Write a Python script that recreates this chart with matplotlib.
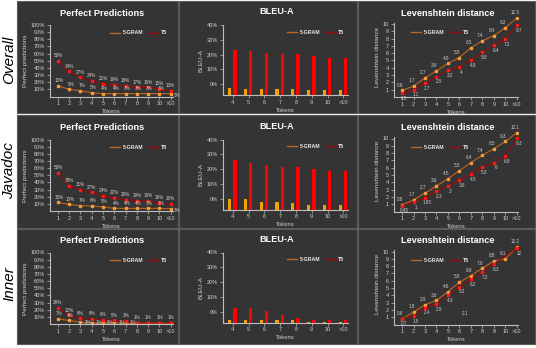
import numpy as np
import matplotlib
matplotlib.use('Agg')
import matplotlib.pyplot as plt
from matplotlib.lines import Line2D
from matplotlib.patches import Rectangle

plt.rcParams['font.family'] = ['Liberation Sans', 'DejaVu Sans']

# ---------------- data ----------------
row_names = ['Overall', 'Javadoc', 'Inner']
series_names = ['5-GRAM', 'T5']

pp_tokens = ['1', '2', '3', '4', '5', '6', '7', '8', '9', '10', '>10']
bleu_tokens = ['4', '5', '6', '7', '8', '9', '10', '>10']
lev_tokens = ['1', '2', '3', '4', '5', '6', '7', '8', '9', '10', '>10']

# Perfect predictions (%), point values and printed labels
pp_overall_5gram = [15, 10, 8, 5.3, 4, 4, 4, 4, 4, 4, 4]
pp_overall_t5 = [49.7, 35, 26.7, 22, 17.4, 16, 14.6, 12.7, 12.7, 10.9, 8]
pp_overall_5gram_lbl = ['13%', '9%', '7%', '5%', '4%', '4%', '3%', '3%', '3%', '3%', '3%']
pp_overall_t5_lbl = ['50%', '34%', '27%', '24%', '21%', '19%', '18%', '17%', '16%', '15%', '13%']

pp_javadoc_5gram = [12, 9.3, 7.4, 7, 5.6, 3.7, 3.7, 3.7, 3.7, 3.7, 3]
pp_javadoc_t5 = [53, 35, 30, 26, 21, 18.5, 16, 14, 14, 11.5, 9.7]
pp_javadoc_5gram_lbl = ['15%', '10%', '7%', '6%', '5%', '4%', '4%', '4%', '3%', '3%', '3%']
pp_javadoc_t5_lbl = ['53%', '38%', '31%', '27%', '24%', '22%', '20%', '19%', '19%', '16%', '16%']

pp_inner_5gram = [7, 5, 2.5, 1.5, 1.5, 1.5, 1.5, 1, 1, 1, 1]
pp_inner_t5 = [22, 12, 8, 7, 5.5, 5, 4, 1.5, 1.5, 1.5, 1.5]
pp_inner_5gram_lbl = ['7%', '4%', '2%', '1%', '0%', '1%', '1%', '', '', '', '']
pp_inner_t5_lbl = ['26%', '12%', '8%', '8%', '6%', '5%', '3%', '1%', '1%', '1%', '1%']

# BLEU-A (%)
bleu_overall_5gram = [-2.6, -3.3, -3.3, -3.3, -3.3, -4.1, -4.1, -4.1]
bleu_overall_t5 = [23.4, 22.3, 20.9, 20.3, 20.3, 18.9, 18.0, 17.6]
bleu_javadoc_5gram = [0, 0, -1.9, -1.9, -2.6, -3.9, -3.9, -3.9]
bleu_javadoc_t5 = [26.1, 23.9, 22.6, 21.3, 21.3, 19.9, 18.6, 18.6]
bleu_inner_5gram = [-5.5, -5.5, -5.5, -5.5, -5.5, -6.6, -6.6, -6.6]
bleu_inner_t5 = [2.7, 2.7, 0.5, -2.1, -4.1, -5.7, -5.7, -5.7]

# Levenshtein distance
lev_overall_5gram = [0.9, 1.5, 2.6, 3.6, 4.6, 5.4, 6.75, 7.7, 8.4, 9.5, 10.8]
lev_overall_t5 = [0.5, 1.0, 1.9, 2.8, 3.7, 4.1, 5.05, 6.1, 7.1, 7.95, 9.9]
lev_overall_5gram_lbl = ['0.9', '1.7', '2.7', '3.8', '4.9', '5.5', '6.5', '7.4', '8.4', '9.2', '12.5']
lev_overall_t5_lbl = ['0.5', '1.1', '1.7', '2.5', '3.2', '4', '4.8', '5.8', '6.4', '7.2', '9.7']

lev_javadoc_5gram = [0.9, 1.6, 2.5, 3.5, 4.5, 5.6, 6.7, 7.7, 8.6, 9.6, 10.8]
lev_javadoc_t5 = [0.8, 1.3, 1.9, 2.8, 3.5, 4.3, 5.1, 6.1, 6.7, 7.6, 10.1]
lev_javadoc_5gram_lbl = ['0.8', '1.7', '2.7', '3.6', '4.5', '5.5', '6.4', '7.4', '8.5', '9.3', '12.1']
lev_javadoc_t5_lbl = ['0.45', '1', '1.65', '2.3', '3', '3.8', '4.5', '5.3', '6', '6.8', '9.3']

lev_inner_5gram = [0.8, 1.7, 2.7, 3.3, 4.5, 5.8, 6.7, 7.7, 8.7, 9.0, 10.6]
lev_inner_t5_idx = [0, 1, 2, 3, 4, 5, 6, 7, 8, 10]
lev_inner_t5 = [0.8, 1.2, 2.3, 2.8, 4.0, 5.2, 6.2, 7.2, 8.3, 10.5]
lev_inner_5gram_lbl = ['0.8', '1.8', '2.9', '3.6', '4.6', '5.8', '6.9', '7.9', '8.8', '9.1', '12.2']
lev_inner_t5_lbl = ['0.7', '1.5', '2.4', '2.9', '4.3', '5.2', '6.2', '7.2', '8.3', '12']
lev_inner_stray = ('2.1', 6.5, 1.45)

# ---------------- style ----------------
BG = '#343434'
EDGE = '#5a5a5a'
SPINE = '#bdbdbd'
TXT = '#cfcfcf'
C5_LINE, C5_MARK = '#c0651c', '#f39c3c'
CT_LINE, CT_MARK = '#9a0a0a', '#ff1616'
BAR5, BART = '#f5a000', '#ff0000'

W, H = 536, 348
fig = plt.figure(figsize=(W / 100, H / 100), dpi=100)
fig.patch.set_facecolor('white')


def frect(l, t, r, b):
    return [l / W, 1 - b / H, (r - l) / W, (b - t) / H]


col_x = [(17, 178), (179, 357), (358, 535)]
row_y = [(1, 113), (114.5, 228), (229, 344)]
for (x0, x1) in col_x:
    for (y0, y1) in row_y:
        fig.add_artist(Rectangle((x0 / W, 1 - y1 / H), (x1 - x0) / W, (y1 - y0) / H,
                                 transform=fig.transFigure, facecolor=BG,
                                 edgecolor=EDGE, lw=0.8, zorder=-10))

dys = [0, 114.5, 227.5]
row_centers = [60, 171, 284]
for name, yc in zip(row_names, row_centers):
    fig.text(9 / W, 1 - yc / H, name, rotation=90, fontsize=11, style='italic',
             ha='center', va='center', color='black')


def style(ax):
    ax.set_facecolor('none')
    ax.set_zorder(2)
    for s in ['top', 'right']:
        ax.spines[s].set_visible(False)
    for s in ['left', 'bottom']:
        ax.spines[s].set_color(SPINE)
        ax.spines[s].set_linewidth(0.8)
    ax.tick_params(colors=SPINE, labelcolor=TXT, labelsize=4, length=2,
                   width=0.5, pad=1.5)


def legend(ax, anchor):
    h = [Line2D([], [], color=C5_LINE, lw=1), Line2D([], [], color=CT_LINE, lw=1)]
    lg = ax.legend(h, series_names, loc='center', bbox_to_anchor=anchor, ncol=2,
                   frameon=False, handlelength=2.0, columnspacing=0.9,
                   handletextpad=0.5, prop={'weight': 'bold', 'size': 3.8})
    for t in lg.get_texts():
        t.set_color('#e8e8e8')


def title(x, y, s):
    fig.text(x / W, 1 - y / H, s, fontsize=6.6, fontweight='bold', color='white',
             ha='center', va='center', zorder=5)


pp_data = [
    (pp_overall_5gram, pp_overall_t5, pp_overall_5gram_lbl, pp_overall_t5_lbl),
    (pp_javadoc_5gram, pp_javadoc_t5, pp_javadoc_5gram_lbl, pp_javadoc_t5_lbl),
    (pp_inner_5gram, pp_inner_t5, pp_inner_5gram_lbl, pp_inner_t5_lbl),
]
bleu_data = [
    (bleu_overall_5gram, bleu_overall_t5),
    (bleu_javadoc_5gram, bleu_javadoc_t5),
    (bleu_inner_5gram, bleu_inner_t5),
]

for r in range(3):
    dy = dys[r]
    # ---------- Perfect Predictions ----------
    ax = fig.add_axes(frect(50, 25 + dy, 173, 96.5 + dy))
    style(ax)
    v5, vt, l5, lt = pp_data[r]
    x = np.arange(1, len(pp_tokens) + 1)
    ax.plot(x, v5, color=C5_LINE, lw=0.8, marker='s', ms=1.8, mfc=C5_MARK, mec=C5_MARK)
    ax.plot(x, vt, color=CT_LINE, lw=0.8, marker='s', ms=1.8, mfc=CT_MARK, mec=CT_MARK)
    n = len(x)
    for i, (xi, v, s) in enumerate(zip(x, v5, l5)):
        if not s:
            continue
        if i == n - 1:
            off, ha, va = (2, -1), 'left', 'center'
        elif r == 2 and i >= 2:
            off, ha, va = (3, 0), 'left', 'center'
        else:
            off, ha, va = (1, 2), 'center', 'bottom'
        ax.annotate(s, (xi, v), xytext=off, textcoords='offset points',
                    fontsize=3.3, color=TXT, ha=ha, va=va, annotation_clip=False)
    for xi, v, s in zip(x, vt, lt):
        ax.annotate(s, (xi, v), xytext=(0, 2), textcoords='offset points',
                    fontsize=3.3, color=TXT, ha='center', va='bottom')
    ax.set_xlim(0.3, 11.2)
    ax.set_ylim(0, 100)
    ax.set_xticks(x)
    ax.set_xticklabels(pp_tokens)
    ax.set_yticks(np.arange(10, 101, 10))
    ax.set_yticklabels([f'{v}%' for v in range(10, 101, 10)])
    ax.set_ylabel('Perfect predictions', fontsize=4.6, color=TXT, labelpad=2)
    ax.set_xlabel('Tokens', fontsize=4.2, color=TXT, labelpad=2)
    legend(ax, (0.72, 0.89))
    title(102, 13 + dy, 'Perfect Predictions')

    # ---------- BLEU-A ----------
    ax = fig.add_axes(frect(223, 25 + dy, 348, 95 + dy))
    style(ax)
    b5, bt = bleu_data[r]
    floor = -7.2
    xb = np.arange(len(bleu_tokens))
    ax.bar(xb - 0.2, np.array(b5) - floor, bottom=floor, width=0.2, color=BAR5)
    ax.bar(xb + 0.13, np.array(bt) - floor, bottom=floor, width=0.22, color=BART)
    ax.set_xlim(-0.63, 7.3)
    ax.set_ylim(floor, 40)
    ax.set_xticks(xb)
    ax.set_xticklabels(bleu_tokens)
    ax.set_yticks([0, 10, 20, 30, 40])
    ax.set_yticklabels(['0%', '10%', '20%', '30%', '40%'])
    ax.set_ylabel('BLEU-A', fontsize=4.6, color=TXT, labelpad=2)
    ax.set_xlabel('Tokens', fontsize=4.2, color=TXT, labelpad=2)
    legend(ax, (0.74, 0.9))
    title(277, 12 + dy, 'BLEU-A')

    # ---------- Levenshtein ----------
    ax = fig.add_axes(frect(394, 16.7 + dy, 518, 97 + dy))
    style(ax)
    xl = np.arange(1, len(lev_tokens) + 1)
    if r == 0:
        o, t, ol, tl, tx = lev_overall_5gram, lev_overall_t5, lev_overall_5gram_lbl, lev_overall_t5_lbl, xl
    elif r == 1:
        o, t, ol, tl, tx = lev_javadoc_5gram, lev_javadoc_t5, lev_javadoc_5gram_lbl, lev_javadoc_t5_lbl, xl
    else:
        o, t, ol, tl = lev_inner_5gram, lev_inner_t5, lev_inner_5gram_lbl, lev_inner_t5_lbl
        tx = xl[lev_inner_t5_idx]
    ax.plot(xl, o, color=C5_LINE, lw=0.8, marker='s', ms=1.8, mfc=C5_MARK, mec=C5_MARK)
    ax.plot(tx, t, color=CT_LINE, lw=0.8, marker='s', ms=1.8, mfc=CT_MARK, mec=CT_MARK)
    for xi, v, s in zip(xl, o, ol):
        ax.annotate(s, (xi, v), xytext=(-1.5, 2), textcoords='offset points',
                    fontsize=3.3, color=TXT, ha='center', va='bottom')
    for xi, v, s in zip(tx, t, tl):
        ax.annotate(s, (xi, v), xytext=(1.5, -2), textcoords='offset points',
                    fontsize=3.3, color=TXT, ha='center', va='top')
    if r == 2:
        s, sx, sy = lev_inner_stray
        ax.text(sx, sy, s, fontsize=3.3, color=TXT, ha='center', va='center')
    ax.set_xlim(0.3, 11.1)
    ax.set_ylim(0, 11)
    ax.spines['left'].set_bounds(0, 10.2)
    ax.set_xticks(xl)
    ax.set_xticklabels(lev_tokens)
    ax.set_yticks(np.arange(1, 11))
    ax.set_ylabel('Levenshtein distance', fontsize=4.6, color=TXT, labelpad=2)
    ax.set_xlabel('Tokens', fontsize=4.2, color=TXT, labelpad=2)
    legend(ax, (0.37, 0.8))
    title(448, 13 + dy, 'Levenshtein distance')

fig.savefig('out.png', dpi=100, facecolor='white')
